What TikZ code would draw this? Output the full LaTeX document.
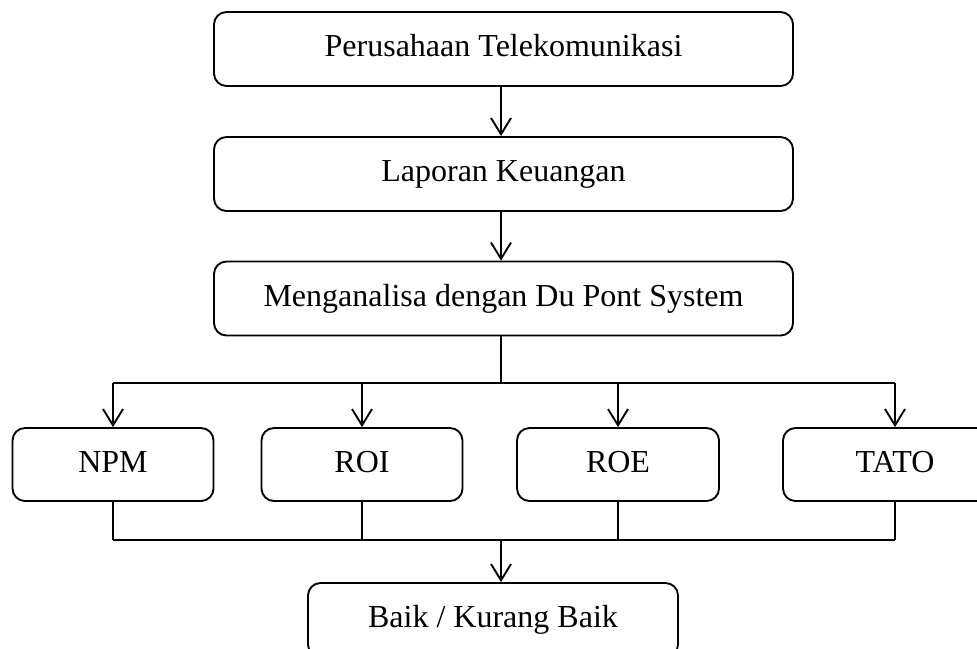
\documentclass[tikz,border=0pt]{standalone}
\usepackage{fontspec}
\setmainfont{Liberation Serif}
\usetikzlibrary{arrows.meta}
\begin{document}
\begin{tikzpicture}[x=0.4pt,y=-0.4pt,
  box/.style={draw,line width=0.75pt,rounded corners=5pt,inner sep=0pt,
    text height=8.5pt,text depth=2.3pt,
    minimum height=29.6pt,font=\fontsize{12.8}{15}\selectfont},
  conn/.style={line width=0.75pt},
  arr/.style={conn,-{Straight Barb[length=6.5pt,width=8pt,line width=0.75pt]}}]
\useasboundingbox (0,0) rectangle (977,648);
\clip (0,0) rectangle (977,648);
\node[box,minimum width=231.6pt] (n1) at (503.5,49) {Perusahaan Telekomunikasi};
\node[box,minimum width=231.6pt] (n2) at (503.5,174) {Laporan Keuangan};
\node[box,minimum width=231.6pt] (n3) at (503.5,298.5) {Menganalisa dengan Du Pont System};
\node[box,minimum width=80.4pt,minimum height=29.2pt] (npm) at (113,464.5) {NPM};
\node[box,minimum width=80.4pt,minimum height=29.2pt] (roi) at (362,464.5) {ROI};
\node[box,minimum width=80.8pt,minimum height=29.2pt] (roe) at (618,464.5) {ROE};
\node[box,minimum width=89.6pt,minimum height=29.2pt] (tato) at (895,464.5) {TATO};
\node[box,minimum width=148pt] (res) at (493,620) {Baik / Kurang Baik};
\coordinate (bt) at (501,383);
\coordinate (bb) at (501,540);
\draw[arr] (n1.south -| bt) -- (n2.north -| bt);
\draw[arr] (n2.south -| bt) -- (n3.north -| bt);
\draw[conn] (n3.south -| bt) -- (bt);
\draw[conn] (npm.north |- bt) -- (tato.north |- bt);
\foreach \b in {npm,roi,roe,tato}{
  \draw[arr] (\b.north |- bt) -- (\b.north);
  \draw[conn] (\b.south) -- (\b.south |- bb);
}
\draw[conn] (npm.south |- bb) -- (tato.south |- bb);
\draw[arr] (bb) -- (bb |- res.north);
\end{tikzpicture}
\end{document}
